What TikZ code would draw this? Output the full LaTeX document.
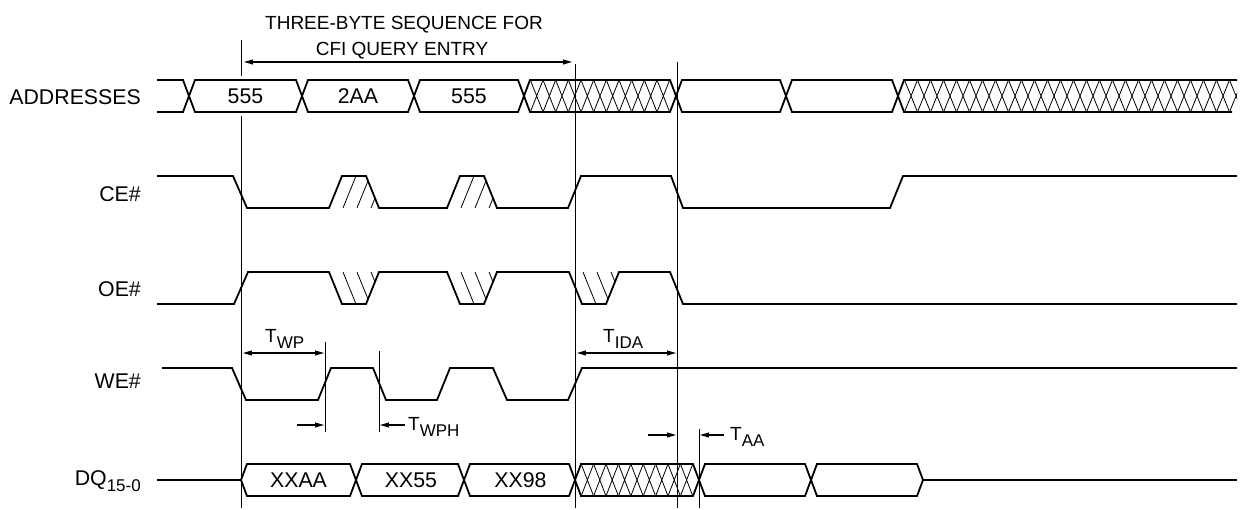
\documentclass[tikz,border=0pt]{standalone}
\usepackage{fontspec}
\setmainfont{Liberation Sans}
\usetikzlibrary{arrows.meta}
\newcommand\tdbox[4]{%
  \draw[sig] (#1,{(#3+#4)/2}) -- (#1+6,#3) -- (#2-6,#3) -- (#2,{(#3+#4)/2}) -- (#2-6,#4) -- (#1+6,#4) -- cycle;}
\newcommand\tdhatch[5]{%
  \pgfmathsetmacro\tdw{(#2-#1)/#3}%
  \pgfmathtruncatemacro\tdn{#3-1}%
  \foreach \k in {1,...,\tdn}{%
    \pgfmathsetmacro\tdc{#1+\k*\tdw}%
    \draw[hatchl] (\tdc-\tdw/2,#4) -- (\tdc+\tdw/2,#5) (\tdc-\tdw/2,#5) -- (\tdc+\tdw/2,#4);
  }}
\newcommand\tdsub[1]{\raisebox{-6pt}{\fontsize{17}{17}\selectfont #1}}
\begin{document}
\begin{tikzpicture}[x=1pt,y=-1pt,
  sig/.style={line width=1.8pt,line join=miter},
  thinl/.style={line width=0.9pt},
  hatchl/.style={line width=0.8pt},
  tip/.tip={Stealth[length=9pt,width=5pt,inset=0.5pt]},
  dim/.style={line width=1.1pt,tip-tip},
  dimr/.style={line width=1.1pt,-tip},
  lab/.style={font=\fontsize{21.3}{21.3}\selectfont,inner sep=0pt,text=black},
  ttl/.style={font=\fontsize{19}{19}\selectfont,inner sep=0pt,text=black},
  tl/.style={font=\fontsize{19}{19}\selectfont,inner sep=0pt,anchor=base west,text=black}]
\useasboundingbox (0,0) rectangle (1244,510);

% title
\node[ttl,anchor=base] (t1) at (404,30) {THREE-BYTE SEQUENCE FOR};
\node[ttl,anchor=base] (t2) at (402,56) {CFI QUERY ENTRY};

% signal names
\node[lab,anchor=base east] (nA) at (141,105) {ADDRESSES};
\node[lab,anchor=base east] (nCE) at (141,202) {CE\#};
\node[lab,anchor=base east] (nOE) at (141,297) {OE\#};
\node[lab,anchor=base east] (nWE) at (141,388) {WE\#};
\node[lab,anchor=base east] (nDQ) at (141,485) {DQ\tdsub{15-0}};

% reference lines
\coordinate (v1t) at (241,40);  \coordinate (v1m) at (241,76);
\coordinate (v1n) at (241,116); \coordinate (v1b) at (241,508);
\coordinate (v2t) at (575,64);  \coordinate (v2b) at (575,508);
\coordinate (v3t) at (677,62);  \coordinate (v3b) at (677,508);
\coordinate (v4t) at (699,429); \coordinate (v4b) at (699,508);
\coordinate (v5t) at (325,342); \coordinate (v5b) at (325,432);
\coordinate (v6t) at (379,351); \coordinate (v6b) at (379,432);
\draw[thinl] (v1t) -- (v1m) (v1n) -- (v1b);
\foreach \v in {2,...,6} \draw[thinl] (v\v t) -- (v\v b);

% ADDRESSES
\draw[sig] (157,80) -- (183,80) -- (189,96) -- (183,112) -- (157,112);
\tdbox{189}{302}{80}{112}
\tdbox{302}{414}{80}{112}
\tdbox{414}{524}{80}{112}
\tdbox{524}{676}{80}{112}
\tdhatch{524}{676}{12}{80}{112}
\tdbox{676}{786}{80}{112}
\tdbox{786}{898}{80}{112}
\draw[sig] (1237,80) -- (904,80) -- (898,96) -- (904,112) -- (1232,112);
\begin{scope}
  \clip (899,70) rectangle (1237,120);
  \tdhatch{898}{1249}{27}{80}{112}
\end{scope}
\node[lab] (a1) at (245.5,96) {555};
\node[lab] (a2) at (358,96) {2AA};
\node[lab] (a3) at (469,96) {555};

% CE#
\draw[sig] (157,176) -- (233,176) -- (247,208) -- (329,208) -- (342,176) -- (366,176) -- (379,208)
  -- (447,208) -- (460,176) -- (484,176) -- (497,208) -- (568,208) -- (581,176) -- (671,176)
  -- (683,208) -- (890,208) -- (903,176) -- (1237,176);
\foreach \p in {329,447}{
  \begin{scope}
    \clip (\p,208) -- (\p+13,176) -- (\p+37,176) -- (\p+50,208) -- cycle;
    \foreach \o in {14,28,42} \draw[hatchl] (\p+\o,208) -- (\p+\o+13,176);
  \end{scope}}

% OE#
\draw[sig] (157,304) -- (234,304) -- (248,272) -- (329,272) -- (342,304) -- (366,304) -- (379,272)
  -- (447,272) -- (460,304) -- (484,304) -- (497,272) -- (569,272) -- (582,304) -- (606,304)
  -- (619,272) -- (670,272) -- (683,304) -- (1237,304);
\foreach \p in {329,447,569}{
  \begin{scope}
    \clip (\p,272) -- (\p+13,304) -- (\p+37,304) -- (\p+50,272) -- cycle;
    \foreach \o in {14,28,42} \draw[hatchl] (\p+\o,272) -- (\p+\o+13,304);
  \end{scope}}

% WE#
\draw[sig] (162,368) -- (232,368) -- (246,400) -- (318,400) -- (331,368) -- (373,368) -- (386,400)
  -- (437,400) -- (450,368) -- (493,368) -- (507,400) -- (568,400) -- (582,368) -- (1237,368);

% DQ
\draw[sig] (157,480) -- (241,480);
\tdbox{241}{356}{464}{496}
\tdbox{356}{464}{464}{496}
\tdbox{464}{575}{464}{496}
\tdbox{575}{699}{464}{496}
\tdhatch{575}{699}{10}{464}{496}
\tdbox{699}{811}{464}{496}
\tdbox{811}{923}{464}{496}
\draw[sig] (923,480) -- (1237,480);
\node[lab] (d1) at (298.5,480) {XXAA};
\node[lab] (d2) at (411,480) {XX55};
\node[lab] (d3) at (520.5,480) {XX98};

% dimension arrows
\coordinate (s1) at (244,62);  \coordinate (s2) at (572,62);
\draw[dim] (s1) -- (s2);
\coordinate (wp1) at (243,353); \coordinate (wp2) at (324,353);
\draw[dim] (wp1) -- (wp2);
\coordinate (id1) at (577,353); \coordinate (id2) at (676,353);
\draw[dim] (id1) -- (id2);
\coordinate (wh1) at (297,425); \coordinate (wh2) at (324,425);
\coordinate (wh3) at (405,425); \coordinate (wh4) at (380,425);
\draw[dimr] (wh1) -- (wh2);
\draw[dimr] (wh3) -- (wh4);
\coordinate (aa1) at (648,435); \coordinate (aa2) at (676,435);
\coordinate (aa3) at (724,435); \coordinate (aa4) at (700,435);
\draw[dimr] (aa1) -- (aa2);
\draw[dimr] (aa3) -- (aa4);

\node[tl] (lwp) at (265,342) {T\tdsub{WP}};
\node[tl] (lida) at (603,342) {T\tdsub{IDA}};
\node[tl] (lwph) at (408,430) {T\tdsub{WPH}};
\node[tl] (laa) at (730,440) {T\tdsub{AA}};
\end{tikzpicture}
\end{document}
